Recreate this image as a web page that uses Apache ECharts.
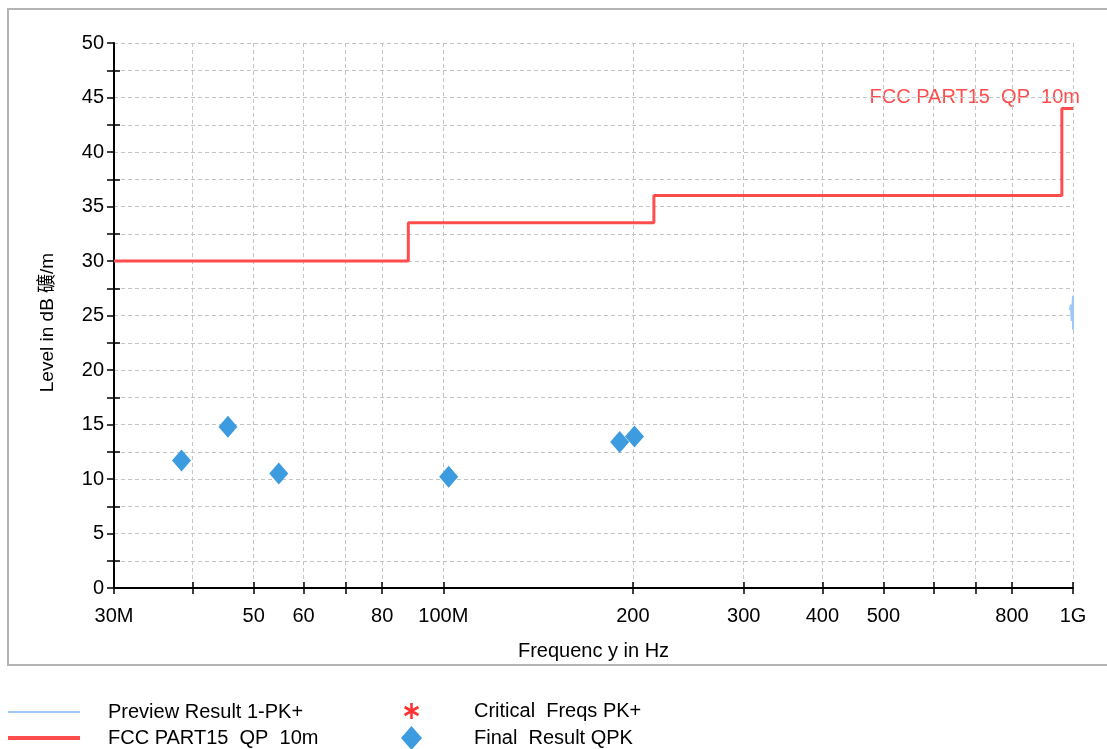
<!DOCTYPE html>
<html>
<head>
<meta charset="utf-8">
<script src="https://cdn.jsdelivr.net/npm/echarts@6/dist/echarts.min.js"></script>
<style>
html,body{margin:0;padding:0;background:#fff;}
#chart{width:1107px;height:749px;}
</style>
</head>
<body>
<div id="chart"></div>
<script>
// ---- data ----
const previewFreq = [989, 992, 995, 998, 1000, 1000];
const previewLevel = [25.5, 26.0, 24.5, 25.8, 26.8, 23.7];
const limitFreq = [30, 88, 88, 216, 216, 960, 960, 1000];
const limitLevel = [30, 30, 33.5, 33.5, 36, 36, 44, 44];
const finalFreq = [38.4, 45.5, 54.8, 102.0, 190.6, 201.2];
const finalLevel = [11.7, 14.8, 10.5, 10.2, 13.4, 13.9];
const xTickValues = [30, 40, 50, 60, 70, 80, 100, 200, 300, 400, 500, 600, 700, 800, 1000];
const xLabelValues = [30, 50, 60, 80, 100, 200, 300, 400, 500, 800, 1000];
const xLabelText = {30: '30M', 100: '100M', 1000: '1G'};
const yMinorTicks = [2.5, 7.5, 12.5, 17.5, 22.5, 27.5, 32.5, 37.5, 42.5, 47.5];
const seriesNames = ['Preview Result 1-PK+', 'FCC PART15  QP  10m', 'Critical  Freqs PK+', 'Final  Result QPK'];
const limitLabel = 'FCC PART15  QP  10m';

function pairs(xs, ys) { return xs.map((x, i) => [x, ys[i]]); }

// asterisk icon path (6 arms) inside a 21x24 box
function asteriskPath() {
  const cx = 10.5, cy = 12, r = 8, w = 1.3;
  let p = '';
  [90, 30, 150].forEach(a => {
    const t = a * Math.PI / 180;
    const dx = Math.cos(t), dy = Math.sin(t);
    const nx = -dy, ny = dx;
    const pts = [
      [cx - r * dx + w * nx, cy - r * dy + w * ny],
      [cx + r * dx + w * nx, cy + r * dy + w * ny],
      [cx + r * dx - w * nx, cy + r * dy - w * ny],
      [cx - r * dx - w * nx, cy - r * dy - w * ny]
    ];
    p += 'M' + pts.map(q => q[0].toFixed(3) + ' ' + q[1].toFixed(3)).join(' L') + ' Z ';
  });
  p += 'M0 0 L0.01 0 L0 0.01 Z M21 24 L20.99 24 L21 23.99 Z';
  return 'path://' + p;
}
// line icons inside a 72x14 box
function lineIcon(th) {
  const y0 = 7 - th / 2, y1 = 7 + th / 2;
  return 'path://M0 ' + y0 + ' L72 ' + y0 + ' L72 ' + y1 + ' L0 ' + y1 + ' Z M0 0 L0.01 0 L0 0.01 Z M72 14 L71.99 14 L72 13.99 Z';
}
const starIcon = asteriskPath();

const FONT = "'Liberation Sans', Arial, 'Noto Sans CJK SC', sans-serif";
const FS = 20;
const gridLine = {show: true, lineStyle: {color: '#c4c4c4', type: [4, 3], width: 1}};

const chart = echarts.init(document.getElementById('chart'), null, {renderer: 'canvas'});
chart.setOption({
  animation: false,
  backgroundColor: '#fff',
  textStyle: {fontFamily: FONT},
  grid: {left: 114, right: 34, top: 43, bottom: 161, containLabel: false},
  graphic: [
    {type: 'rect', shape: {x: 8, y: 9, width: 1112, height: 656}, style: {fill: 'none', stroke: '#b4b4b4', lineWidth: 2}, silent: true},
    {type: 'text', x: 1080, y: 97, style: {text: limitLabel, align: 'right', verticalAlign: 'middle', fill: '#ff4d4d', font: FS + "px 'Liberation Sans', Arial, sans-serif"}, silent: true}
  ],
  legend: [
    {
      orient: 'vertical', left: 8, top: 702, height: 60, padding: 0, itemGap: 6,
      itemWidth: 72, itemHeight: 14, selectedMode: false,
      textStyle: {fontSize: FS, color: '#000', fontFamily: FONT, padding: [0, 0, 0, 23], lineHeight: 14},
      data: [
        {name: seriesNames[0], icon: lineIcon(2)},
        {name: seriesNames[1], icon: lineIcon(4)}
      ]
    },
    {
      orient: 'vertical', left: 401, top: 699, height: 60, padding: 0, itemGap: 3,
      itemWidth: 21, itemHeight: 24, selectedMode: false,
      textStyle: {fontSize: FS, color: '#000', fontFamily: FONT, padding: [0, 0, 0, 47], lineHeight: 24},
      data: [
        {name: seriesNames[2], icon: starIcon},
        {name: seriesNames[3], icon: 'diamond'}
      ]
    }
  ],
  xAxis: [
    {
      type: 'log', logBase: 10, min: 30, max: 1000,
      name: 'Frequenc y in Hz', nameLocation: 'middle', nameGap: 53,
      nameTextStyle: {fontSize: FS, color: '#000', fontFamily: FONT},
      axisLine: {show: true, onZero: false, lineStyle: {color: '#000', width: 2}},
      axisTick: {show: true, inside: false, length: 6, customValues: xTickValues, lineStyle: {color: '#000', width: 1.5}},
      minorTick: {show: false},
      axisLabel: {show: true, margin: 18, fontSize: FS, color: '#000', fontFamily: FONT, customValues: xLabelValues,
        formatter: v => { const r = Math.round(v); return xLabelText[r] || String(r); }},
      splitLine: gridLine,
      minorSplitLine: {show: false}
    },
    {
      type: 'log', logBase: 10, min: 30, max: 1000, position: 'bottom', offset: 0,
      axisLine: {show: false, onZero: false},
      axisTick: {show: true, inside: true, length: 6, customValues: xTickValues, lineStyle: {color: '#000', width: 1.5}},
      axisLabel: {show: false},
      splitLine: {show: false}
    }
  ],
  yAxis: [
    {
      type: 'value', min: 0, max: 50, interval: 2.5,
      name: 'Level in dB 礦/m', nameLocation: 'middle', nameGap: 57, nameRotate: 90,
      nameTextStyle: {fontSize: 19, color: '#000', fontFamily: FONT, padding: [0, 14, 0, 0]},
      axisLine: {show: true, onZero: false, lineStyle: {color: '#000', width: 2}},
      axisTick: {show: true, inside: false, length: 7, lineStyle: {color: '#000', width: 1.5}},
      axisLabel: {show: true, margin: 10, fontSize: FS, color: '#000', fontFamily: FONT,
        formatter: v => (Math.abs(v % 5) < 1e-9 ? String(v) : '')},
      splitLine: gridLine
    },
    {
      type: 'value', min: 0, max: 50, position: 'left', offset: 0,
      axisLine: {show: false, onZero: false},
      axisTick: {show: true, inside: true, length: 6, customValues: yMinorTicks, lineStyle: {color: '#000', width: 1.5}},
      axisLabel: {show: false},
      splitLine: {show: false}
    }
  ],
  series: [
    {
      name: seriesNames[0], type: 'line', xAxisIndex: 0, yAxisIndex: 0,
      data: pairs(previewFreq, previewLevel),
      symbol: 'none', showSymbol: false, z: 3,
      lineStyle: {color: '#9ccaf5', width: 2}, itemStyle: {color: '#9ccaf5'}
    },
    {
      name: seriesNames[1], type: 'line', xAxisIndex: 0, yAxisIndex: 0,
      data: pairs(limitFreq, limitLevel),
      symbol: 'none', showSymbol: false, z: 4,
      lineStyle: {color: '#ff4d4d', width: 3}, itemStyle: {color: '#ff4d4d'}
    },
    {
      name: seriesNames[2], type: 'scatter', xAxisIndex: 0, yAxisIndex: 0,
      data: [], symbol: starIcon, symbolSize: 16,
      itemStyle: {color: '#ff0000'}
    },
    {
      name: seriesNames[3], type: 'scatter', xAxisIndex: 0, yAxisIndex: 0,
      data: pairs(finalFreq, finalLevel),
      symbol: 'diamond', symbolSize: [19, 22], z: 5,
      itemStyle: {color: '#3d9be0', opacity: 1}
    }
  ]
});
</script>
</body>
</html>
